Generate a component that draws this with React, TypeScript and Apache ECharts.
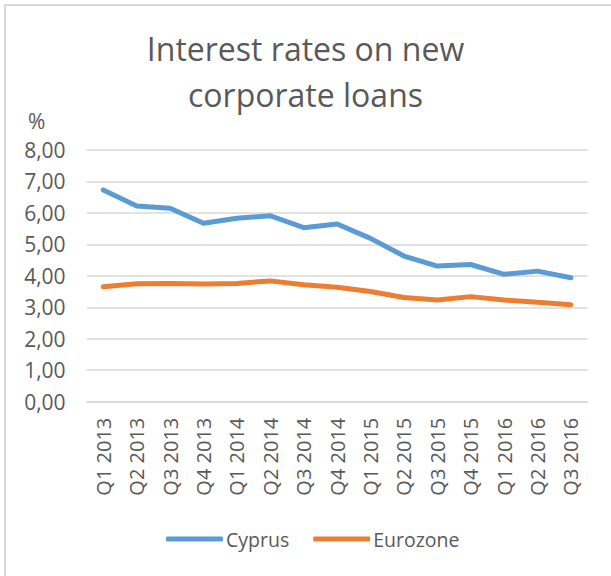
import React, { useEffect, useRef } from "react";
import * as echarts from "echarts";

const categories = [
  "Q1 2013", "Q2 2013", "Q3 2013", "Q4 2013",
  "Q1 2014", "Q2 2014", "Q3 2014", "Q4 2014",
  "Q1 2015", "Q2 2015", "Q3 2015", "Q4 2015",
  "Q1 2016", "Q2 2016", "Q3 2016",
];
const cyprus = [6.73, 6.22, 6.15, 5.67, 5.83, 5.91, 5.53, 5.65, 5.19, 4.63, 4.31, 4.36, 4.05, 4.15, 3.94];
const eurozone = [3.65, 3.75, 3.76, 3.74, 3.76, 3.84, 3.72, 3.64, 3.5, 3.31, 3.23, 3.34, 3.23, 3.16, 3.08];

const FONT = "'Open Sans', 'Noto Sans', sans-serif";
const TXT = "#595959";

export default function App() {
  const ref = useRef<HTMLDivElement>(null);
  useEffect(() => {
    document.body.style.margin = "0";
    const chart = echarts.init(ref.current!, null, { renderer: "svg" });
    chart.setOption({
      animation: false,
      backgroundColor: "#ffffff",
      textStyle: { fontFamily: FONT },
      title: {
        text: "Interest rates on new\ncorporate loans",
        left: "center",
        top: 20,
        textStyle: { fontFamily: FONT, fontSize: 32, fontWeight: "normal", color: TXT, lineHeight: 46 },
      },
      graphic: [
        {
          type: "rect",
          shape: { x: 5, y: 5, width: 800, height: 800 },
          style: { fill: "none", stroke: "#d9d9d9", lineWidth: 2 },
          silent: true,
        },
        {
          type: "text",
          left: 28,
          top: 110,
          style: { text: "%", fontFamily: FONT, fontSize: 21, fill: TXT },
        },
      ],
      legend: {
        data: ["Cyprus", "Eurozone"],
        left: 161,
        top: 524,
        icon: "roundRect",
        itemWidth: 57,
        itemHeight: 5,
        itemGap: 24,
        textStyle: { fontFamily: FONT, fontSize: 19.5, color: TXT, padding: [0, 0, 0, -2] },
      },
      grid: { left: 86.6, right: 23.4, top: 150, bottom: 174.3, containLabel: false },
      xAxis: {
        type: "category",
        data: categories,
        boundaryGap: true,
        axisLine: { show: true, lineStyle: { color: "#d9d9d9", width: 1.5 } },
        axisTick: { show: false },
        axisLabel: { rotate: 90, fontFamily: FONT, fontSize: 20, color: TXT, margin: 16, interval: 0 },
      },
      yAxis: {
        type: "value",
        min: 0,
        max: 8,
        interval: 1,
        axisLine: { show: false },
        axisTick: { show: false },
        splitLine: { lineStyle: { color: "#d9d9d9", width: 1.5 } },
        axisLabel: {
          fontFamily: FONT,
          fontSize: 21,
          color: TXT,
          margin: 21,
          formatter: (v: number) => v.toFixed(2).replace(".", ","),
        },
      },
      series: [
        {
          name: "Cyprus",
          type: "line",
          data: cyprus,
          symbol: "none",
          lineStyle: { color: "#5B9BD5", width: 5, cap: "round", join: "round" },
          itemStyle: { color: "#5B9BD5" },
        },
        {
          name: "Eurozone",
          type: "line",
          data: eurozone,
          symbol: "none",
          lineStyle: { color: "#ED7D31", width: 5, cap: "round", join: "round" },
          itemStyle: { color: "#ED7D31" },
        },
      ],
    });
    return () => chart.dispose();
  }, []);
  return <div ref={ref} style={{ width: 611, height: 576 }} />;
}
